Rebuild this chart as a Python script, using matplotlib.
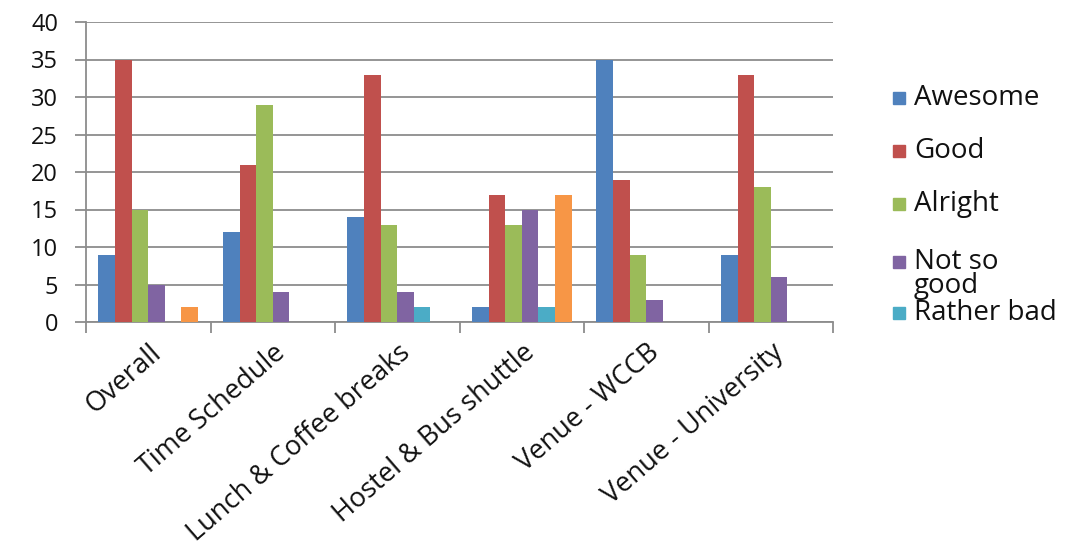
import matplotlib.pyplot as plt
from matplotlib.patches import Rectangle
import numpy as np

plt.rcParams["font.family"] = ["Open Sans", "DejaVu Sans"]

categories = ["Overall", "Time Schedule", "Lunch & Coffee breaks",
              "Hostel & Bus shuttle", "Venue - WCCB", "Venue - University"]
awesome = [9, 12, 14, 2, 35, 9]
good = [35, 21, 33, 17, 19, 33]
alright = [15, 29, 13, 13, 9, 18]
not_so_good = [5, 4, 4, 15, 3, 6]
rather_bad = [0, 0, 2, 2, 0, 0]
very_bad = [2, 0, 0, 17, 0, 0]

series = [
    ("Awesome", awesome, "#4F81BD"),
    ("Good", good, "#C0504D"),
    ("Alright", alright, "#9BBB59"),
    ("Not so\ngood", not_so_good, "#8064A2"),
    ("Rather bad", rather_bad, "#4BACC6"),
    ("Very bad", very_bad, "#F79646"),
]

W, H = 1083, 554
fig = plt.figure(figsize=(W / 100, H / 100), dpi=100)
ax = fig.add_axes([86 / W, 1 - 322 / H, (833 - 86) / W, 300 / H])

x = np.arange(len(categories))
w = 1 / 7.5
for i, (name, vals, col) in enumerate(series):
    ax.bar(x - 2.5 * w + i * w, vals, width=w, color=col, zorder=3)

ax.set_xlim(-0.5, len(categories) - 0.5)
ax.set_ylim(0, 40)
ax.set_yticks(range(0, 41, 5))
ax.yaxis.grid(True, color="#8c8c8c", linewidth=1.3, zorder=0)
ax.set_xticks(np.arange(len(categories) + 1) - 0.5)
ax.set_xticklabels([])
ax.set_xticks(x, minor=True)
ax.set_xticklabels(categories, minor=True, rotation=41, ha="right", va="top",
                   rotation_mode="anchor", fontsize=19.5, color="#111111")
ax.tick_params(axis="x", which="minor", length=0, pad=12)
ax.tick_params(axis="x", which="major", length=8, color="#8c8c8c", width=1.3)
ax.tick_params(axis="y", length=8, color="#8c8c8c", width=1.3,
               labelsize=17, labelcolor="#111111", pad=12)
for side in ["top", "right"]:
    ax.spines[side].set_visible(False)
for side in ["left", "bottom"]:
    ax.spines[side].set_color("#8c8c8c")
    ax.spines[side].set_linewidth(1.3)

# legend drawn by hand (the sixth entry is cut off in the original)
leg_y = [98, 151, 204, 274, 313]
for (name, vals, col), y in zip(series[:5], leg_y):
    ty = 262 if name.startswith("Not") else y
    fig.patches.append(Rectangle((893 / W, 1 - (ty + 6) / H), 12 / W, 12 / H,
                                 transform=fig.transFigure, color=col))
    fig.text(914 / W, 1 - y / H, name, fontsize=20, color="#111111",
             va="center", ha="left", linespacing=0.8)

fig.savefig("out.png", dpi=100)
